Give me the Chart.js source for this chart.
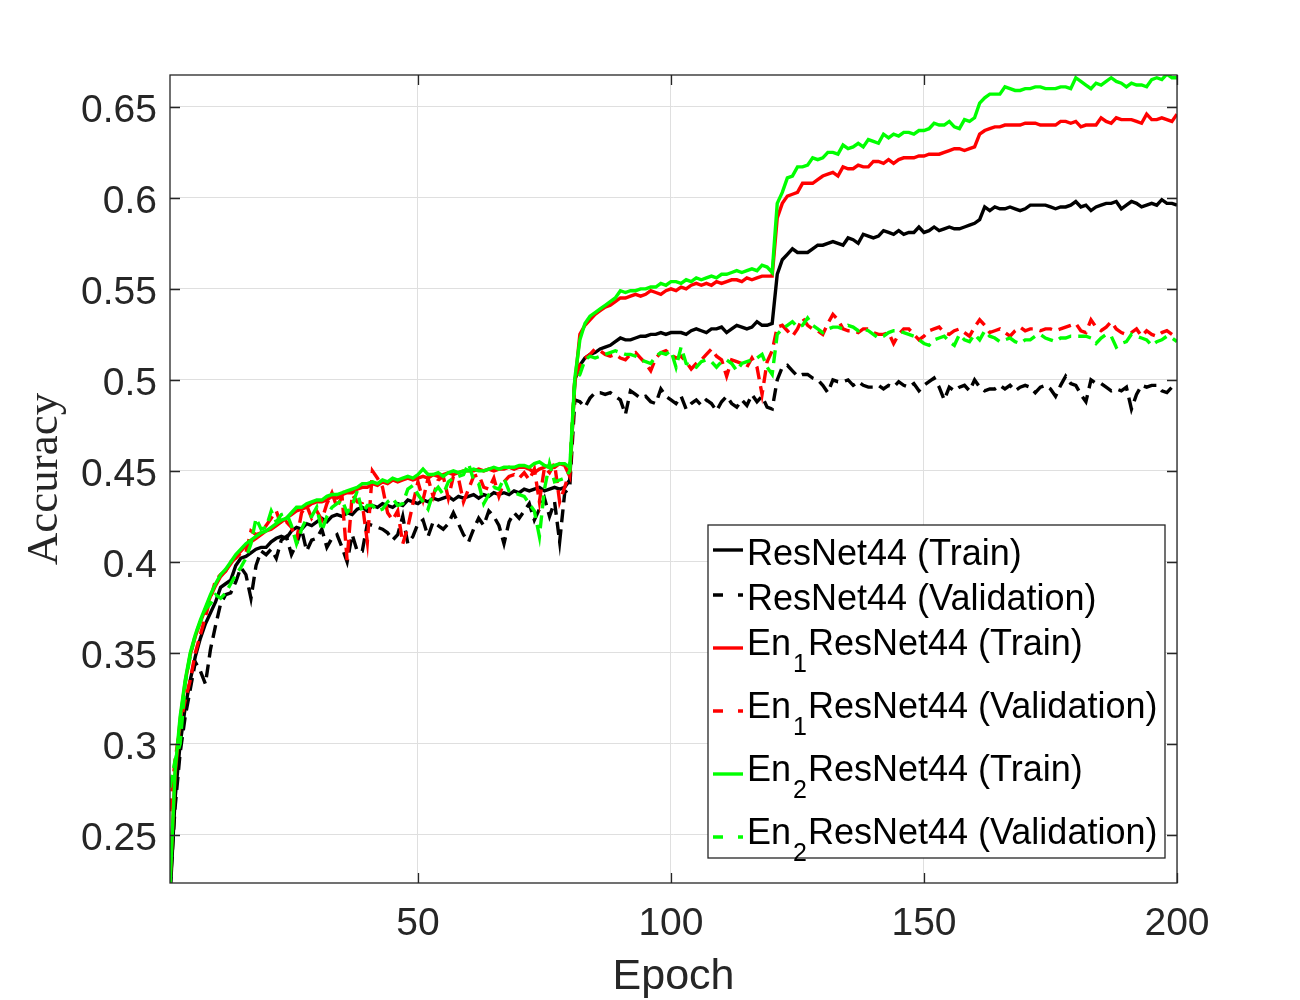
<!DOCTYPE html>
<html>
<head>
<meta charset="utf-8">
<title>Accuracy vs Epoch</title>
<script src="https://cdn.jsdelivr.net/npm/chart.js@4.4.1/dist/chart.umd.min.js"></script>
<style>
  html, body { margin: 0; padding: 0; background: #fff; }
  #chart { display: block; }
</style>
</head>
<body>
<canvas id="chart" width="1300" height="1000"></canvas>
<script>
// ─── Data ──────────────────────────────────────────────

var epochs = Array.from({ length: 200 }, function (_, i) { return i + 1; });

var xTicks = [50, 100, 150, 200];
var yTicks = [0.25, 0.3, 0.35, 0.4, 0.45, 0.5, 0.55, 0.6, 0.65];
var yTickLabels = ['0.25', '0.3', '0.35', '0.4', '0.45', '0.5', '0.55', '0.6', '0.65'];

// legend labels, "_n" marks a subscript digit
var seriesNames = [
  'ResNet44 (Train)',
  'ResNet44 (Validation)',
  'En_1ResNet44 (Train)',
  'En_1ResNet44 (Validation)',
  'En_2ResNet44 (Train)',
  'En_2ResNet44 (Validation)'
];

var resTrain = [
  0.215, 0.270, 0.300, 0.320, 0.335, 0.348, 0.358, 0.366, 0.372, 0.378,
  0.386, 0.388, 0.390, 0.398, 0.402, 0.403, 0.405, 0.407, 0.408, 0.408,
  0.411, 0.413, 0.414, 0.413, 0.417, 0.419, 0.418, 0.421, 0.420, 0.422,
  0.424, 0.422, 0.425, 0.426, 0.425, 0.427, 0.426, 0.429, 0.430, 0.428,
  0.431, 0.430, 0.432, 0.431, 0.430, 0.432, 0.431, 0.434, 0.433, 0.432,
  0.434, 0.433, 0.435, 0.434, 0.435, 0.436, 0.434, 0.436, 0.435, 0.436,
  0.437, 0.435, 0.437, 0.436, 0.438, 0.437, 0.438, 0.437, 0.439, 0.438,
  0.440, 0.439, 0.440, 0.441, 0.439, 0.440, 0.441, 0.440, 0.441, 0.445,
  0.500, 0.508, 0.512, 0.514, 0.515, 0.517, 0.518, 0.519, 0.521, 0.523,
  0.522, 0.522, 0.523, 0.524, 0.524, 0.525, 0.525, 0.526, 0.525, 0.526,
  0.526, 0.526, 0.525, 0.527, 0.528, 0.527, 0.526, 0.528, 0.528, 0.529,
  0.526, 0.528, 0.530, 0.529, 0.528, 0.529, 0.532, 0.530, 0.530, 0.531,
  0.558, 0.566, 0.569, 0.572, 0.570, 0.570, 0.570, 0.572, 0.574, 0.574,
  0.575, 0.576, 0.575, 0.574, 0.578, 0.577, 0.575, 0.580, 0.579, 0.578,
  0.579, 0.582, 0.581, 0.580, 0.582, 0.580, 0.581, 0.581, 0.584, 0.581,
  0.582, 0.584, 0.582, 0.583, 0.584, 0.583, 0.583, 0.584, 0.585, 0.586,
  0.588, 0.595, 0.593, 0.595, 0.594, 0.594, 0.595, 0.594, 0.593, 0.594,
  0.596, 0.596, 0.596, 0.596, 0.595, 0.594, 0.595, 0.595, 0.596, 0.598,
  0.595, 0.596, 0.593, 0.595, 0.596, 0.597, 0.597, 0.598, 0.594, 0.596,
  0.598, 0.597, 0.595, 0.596, 0.597, 0.596, 0.599, 0.597, 0.597, 0.596
];

var resVal = [
  0.220, 0.265, 0.295, 0.315, 0.330, 0.345, 0.340, 0.333, 0.352, 0.365,
  0.377, 0.382, 0.383, 0.389, 0.397, 0.393, 0.380, 0.398, 0.406, 0.404,
  0.407, 0.402, 0.412, 0.414, 0.404, 0.410, 0.418, 0.406, 0.412, 0.413,
  0.418, 0.408, 0.413, 0.415, 0.408, 0.400, 0.415, 0.406, 0.406, 0.421,
  0.420, 0.419, 0.418, 0.416, 0.412, 0.415, 0.425, 0.410, 0.414, 0.421,
  0.423, 0.414, 0.422, 0.420, 0.418, 0.421, 0.427, 0.421, 0.415, 0.411,
  0.418, 0.424, 0.420, 0.428, 0.425, 0.420, 0.410, 0.422, 0.427, 0.424,
  0.428, 0.432, 0.423, 0.429, 0.435, 0.425, 0.433, 0.411, 0.438, 0.441,
  0.489, 0.488, 0.485, 0.490, 0.493, 0.493, 0.492, 0.493, 0.491, 0.489,
  0.481, 0.494, 0.492, 0.490, 0.491, 0.488, 0.487, 0.495, 0.491, 0.489,
  0.487, 0.491, 0.484, 0.487, 0.489, 0.486, 0.489, 0.487, 0.483, 0.488,
  0.491, 0.487, 0.485, 0.489, 0.486, 0.492, 0.488, 0.491, 0.485, 0.484,
  0.500, 0.507, 0.508, 0.505, 0.502, 0.503, 0.503, 0.501, 0.500, 0.497,
  0.493, 0.500, 0.499, 0.499, 0.500, 0.497, 0.499, 0.497, 0.496, 0.496,
  0.497, 0.495, 0.497, 0.496, 0.499, 0.497, 0.496, 0.498, 0.494, 0.497,
  0.499, 0.501, 0.496, 0.489, 0.496, 0.494, 0.496, 0.497, 0.494, 0.500,
  0.496, 0.494, 0.495, 0.495, 0.497, 0.495, 0.497, 0.494, 0.496, 0.497,
  0.496, 0.493, 0.496, 0.497, 0.495, 0.491, 0.497, 0.502, 0.498, 0.497,
  0.492, 0.488, 0.500, 0.498, 0.498, 0.496, 0.494, 0.495, 0.494, 0.496,
  0.484, 0.492, 0.497, 0.496, 0.497, 0.497, 0.494, 0.493, 0.496, 0.495
];

var en1Train = [
  0.224, 0.283, 0.313, 0.334, 0.349, 0.359, 0.367, 0.374, 0.381, 0.387,
  0.392, 0.395, 0.399, 0.403, 0.406, 0.409, 0.411, 0.413, 0.415, 0.417,
  0.418, 0.420, 0.422, 0.424, 0.426, 0.428, 0.429, 0.430, 0.432, 0.433,
  0.433, 0.434, 0.436, 0.435, 0.437, 0.438, 0.438, 0.440, 0.441, 0.441,
  0.443, 0.442, 0.444, 0.443, 0.445, 0.444, 0.445, 0.446, 0.445, 0.446,
  0.447, 0.446, 0.448, 0.447, 0.448, 0.449, 0.448, 0.449, 0.450, 0.450,
  0.450, 0.451, 0.450, 0.451, 0.450, 0.451, 0.451, 0.452, 0.451, 0.452,
  0.452, 0.451, 0.449, 0.451, 0.452, 0.453, 0.452, 0.454, 0.453, 0.447,
  0.498, 0.525, 0.530, 0.533, 0.536, 0.538, 0.540, 0.541, 0.543, 0.545,
  0.545, 0.546, 0.547, 0.546, 0.547, 0.549, 0.548, 0.547, 0.549, 0.550,
  0.549, 0.551, 0.550, 0.552, 0.553, 0.552, 0.553, 0.552, 0.554, 0.553,
  0.554, 0.555, 0.555, 0.554, 0.556, 0.555, 0.556, 0.557, 0.557, 0.557,
  0.589, 0.597, 0.601, 0.602, 0.603, 0.608, 0.608, 0.608, 0.610, 0.612,
  0.613, 0.614, 0.612, 0.617, 0.616, 0.616, 0.618, 0.617, 0.617, 0.620,
  0.620, 0.619, 0.621, 0.619, 0.621, 0.622, 0.622, 0.622, 0.623, 0.623,
  0.624, 0.624, 0.624, 0.625, 0.626, 0.627, 0.627, 0.626, 0.627, 0.628,
  0.635, 0.637, 0.638, 0.639, 0.639, 0.640, 0.640, 0.640, 0.640, 0.641,
  0.641, 0.641, 0.640, 0.640, 0.640, 0.640, 0.642, 0.642, 0.641, 0.642,
  0.639, 0.640, 0.640, 0.640, 0.644, 0.642, 0.641, 0.644, 0.643, 0.643,
  0.643, 0.642, 0.641, 0.646, 0.643, 0.643, 0.644, 0.643, 0.642, 0.646
];

var en1Val = [
  0.263, 0.291, 0.310, 0.324, 0.335, 0.350, 0.360, 0.370, 0.380, 0.390,
  0.393, 0.395, 0.400, 0.402, 0.405, 0.405, 0.417, 0.415, 0.416, 0.420,
  0.424, 0.428, 0.420, 0.422, 0.419, 0.412, 0.427, 0.431, 0.424, 0.428,
  0.423, 0.432, 0.438, 0.430, 0.436, 0.401, 0.437, 0.433, 0.432, 0.411,
  0.450, 0.446, 0.441, 0.427, 0.423, 0.428, 0.410, 0.419, 0.432, 0.444,
  0.434, 0.446, 0.436, 0.445, 0.447, 0.435, 0.447, 0.446, 0.433, 0.440,
  0.447, 0.448, 0.441, 0.440, 0.446, 0.436, 0.444, 0.447, 0.448, 0.446,
  0.449, 0.445, 0.451, 0.433, 0.452, 0.449, 0.454, 0.433, 0.441, 0.450,
  0.501, 0.508, 0.512, 0.514, 0.517, 0.516, 0.514, 0.513, 0.514, 0.512,
  0.511, 0.514, 0.515, 0.512, 0.509, 0.505, 0.512, 0.515, 0.516, 0.514,
  0.512, 0.513, 0.510, 0.506, 0.509, 0.511, 0.514, 0.517, 0.513, 0.511,
  0.502, 0.511, 0.510, 0.509, 0.507, 0.512, 0.507, 0.492, 0.510, 0.516,
  0.529, 0.530, 0.527, 0.524, 0.528, 0.534, 0.530, 0.528, 0.527, 0.525,
  0.531, 0.536, 0.533, 0.528, 0.527, 0.527, 0.526, 0.528, 0.528, 0.526,
  0.525, 0.525, 0.526, 0.520, 0.525, 0.528, 0.528, 0.525, 0.522, 0.524,
  0.527, 0.528, 0.529, 0.526, 0.525, 0.527, 0.528, 0.526, 0.524, 0.529,
  0.533, 0.530, 0.526, 0.527, 0.528, 0.526, 0.524, 0.527, 0.529, 0.527,
  0.528, 0.528, 0.527, 0.528, 0.528, 0.527, 0.528, 0.529, 0.530, 0.531,
  0.527, 0.526, 0.533, 0.529, 0.527, 0.529, 0.532, 0.528, 0.526, 0.525,
  0.526, 0.528, 0.524, 0.527, 0.525, 0.524, 0.526, 0.527, 0.525, 0.523
];

var en2Train = [
  0.222, 0.285, 0.315, 0.335, 0.350, 0.360, 0.368, 0.375, 0.382, 0.388,
  0.393, 0.396, 0.400, 0.404, 0.407, 0.410, 0.412, 0.414, 0.416, 0.417,
  0.419, 0.421, 0.423, 0.424, 0.427, 0.430, 0.430, 0.432, 0.433, 0.434,
  0.434, 0.436, 0.437, 0.437, 0.438, 0.439, 0.440, 0.441, 0.443, 0.443,
  0.444, 0.443, 0.445, 0.444, 0.446, 0.445, 0.446, 0.447, 0.446, 0.448,
  0.451, 0.448, 0.448, 0.449, 0.447, 0.449, 0.450, 0.449, 0.450, 0.450,
  0.451, 0.450, 0.450, 0.451, 0.452, 0.451, 0.452, 0.452, 0.452, 0.453,
  0.453, 0.452, 0.454, 0.455, 0.453, 0.452, 0.453, 0.454, 0.454, 0.452,
  0.501, 0.522, 0.531, 0.535, 0.537, 0.539, 0.541, 0.543, 0.545, 0.549,
  0.548, 0.549, 0.549, 0.550, 0.550, 0.551, 0.551, 0.553, 0.552, 0.554,
  0.554, 0.553, 0.555, 0.554, 0.556, 0.555, 0.556, 0.557, 0.556, 0.558,
  0.558, 0.559, 0.560, 0.559, 0.560, 0.561, 0.560, 0.563, 0.562, 0.559,
  0.597, 0.603, 0.611, 0.612, 0.617, 0.617, 0.618, 0.622, 0.621, 0.622,
  0.625, 0.625, 0.624, 0.629, 0.627, 0.628, 0.630, 0.628, 0.632, 0.631,
  0.630, 0.635, 0.633, 0.635, 0.634, 0.636, 0.636, 0.635, 0.637, 0.637,
  0.638, 0.641, 0.640, 0.640, 0.642, 0.639, 0.638, 0.643, 0.642, 0.644,
  0.652, 0.655, 0.657, 0.657, 0.657, 0.661, 0.660, 0.659, 0.659, 0.660,
  0.660, 0.661, 0.661, 0.660, 0.660, 0.660, 0.661, 0.661, 0.660, 0.666,
  0.664, 0.662, 0.660, 0.663, 0.662, 0.664, 0.666, 0.664, 0.663, 0.661,
  0.663, 0.662, 0.662, 0.661, 0.665, 0.666, 0.665, 0.668, 0.666, 0.666
];

var en2Val = [
  0.276, 0.291, 0.300, 0.333, 0.348, 0.360, 0.367, 0.374, 0.377, 0.382,
  0.380, 0.383, 0.388, 0.393, 0.397, 0.402, 0.410, 0.424, 0.418, 0.419,
  0.428, 0.422, 0.426, 0.427, 0.420, 0.410, 0.418, 0.424, 0.425, 0.430,
  0.417, 0.425, 0.430, 0.432, 0.434, 0.427, 0.431, 0.439, 0.427, 0.431,
  0.431, 0.428, 0.429, 0.433, 0.435, 0.431, 0.432, 0.440, 0.442, 0.437,
  0.433, 0.429, 0.438, 0.441, 0.437, 0.444, 0.446, 0.447, 0.448, 0.454,
  0.445, 0.443, 0.432, 0.437, 0.441, 0.440, 0.446, 0.439, 0.438, 0.437,
  0.436, 0.432, 0.428, 0.414, 0.440, 0.454, 0.444, 0.445, 0.446, 0.450,
  0.499, 0.503, 0.511, 0.513, 0.512, 0.513, 0.514, 0.515, 0.516, 0.515,
  0.514, 0.514, 0.513, 0.511, 0.510, 0.509, 0.513, 0.515, 0.514, 0.516,
  0.507, 0.518, 0.509, 0.508, 0.507, 0.510, 0.511, 0.510, 0.507, 0.510,
  0.511, 0.509, 0.505, 0.509, 0.510, 0.511, 0.512, 0.514, 0.507, 0.503,
  0.525, 0.528, 0.530, 0.532, 0.529, 0.530, 0.534, 0.530, 0.528, 0.526,
  0.528, 0.529, 0.529, 0.528, 0.530, 0.529, 0.527, 0.528, 0.527, 0.525,
  0.523, 0.524, 0.526, 0.527, 0.527, 0.526, 0.525, 0.524, 0.522, 0.520,
  0.519, 0.522, 0.523, 0.524, 0.521, 0.519, 0.525, 0.522, 0.521, 0.525,
  0.522, 0.527, 0.524, 0.523, 0.521, 0.522, 0.523, 0.521, 0.520, 0.522,
  0.522, 0.524, 0.525, 0.523, 0.522, 0.521, 0.523, 0.523, 0.524, 0.524,
  0.524, 0.524, 0.523, 0.520, 0.523, 0.525, 0.524, 0.518, 0.520, 0.521,
  0.525, 0.524, 0.523, 0.522, 0.519, 0.521, 0.522, 0.524, 0.523, 0.521
];

// ─── Style ─────────────────────────────────────────────

var AXIS_COLOR = '#262626';
var GRID_COLOR = '#dfdfdf';
var SANS = '"Liberation Sans", Arial, Helvetica, sans-serif';
var SERIF = '"Liberation Serif", "DejaVu Serif", serif';
var DASH = [13, 7];

var seriesStyle = [
  { color: '#000000', dash: [] },
  { color: '#000000', dash: DASH },
  { color: '#ff0000', dash: [] },
  { color: '#ff0000', dash: DASH },
  { color: '#00ff00', dash: [] },
  { color: '#00ff00', dash: DASH }
];
var seriesValues = [resTrain, resVal, en1Train, en1Val, en2Train, en2Val];

function toPoints(values) {
  return values.map(function (v, i) { return { x: epochs[i], y: v }; });
}

var datasets = seriesValues.map(function (vals, i) {
  return {
    label: seriesNames[i].replace('_', ''),
    data: toPoints(vals),
    borderColor: seriesStyle[i].color,
    borderDash: seriesStyle[i].dash,
    borderWidth: 3.4,
    pointRadius: 0,
    tension: 0,
    fill: false,
    clip: 0,
    order: seriesValues.length - i   // later series drawn on top
  };
});

// ─── Plugins: axes box + inner ticks, legend ───────────

var framePlugin = {
  id: 'frame',
  afterDatasetsDraw: function (chart) {
    var a = chart.chartArea, ctx = chart.ctx;
    var xs = chart.scales.x, ys = chart.scales.y;
    var tl = 10;
    ctx.save();
    ctx.strokeStyle = AXIS_COLOR;
    ctx.lineWidth = 1.3;
    ctx.strokeRect(a.left, a.top, a.right - a.left, a.bottom - a.top);
    ctx.beginPath();
    xTicks.forEach(function (v) {
      var px = Math.round(xs.getPixelForValue(v)) + 0.5;
      ctx.moveTo(px, a.bottom); ctx.lineTo(px, a.bottom - tl);
      ctx.moveTo(px, a.top); ctx.lineTo(px, a.top + tl);
    });
    yTicks.forEach(function (v) {
      var py = Math.round(ys.getPixelForValue(v)) + 0.5;
      ctx.moveTo(a.left, py); ctx.lineTo(a.left + tl, py);
      ctx.moveTo(a.right, py); ctx.lineTo(a.right - tl, py);
    });
    ctx.stroke();
    ctx.restore();
  }
};

var legendPlugin = {
  id: 'matlabLegend',
  afterDraw: function (chart) {
    var ctx = chart.ctx;
    var box = { left: 708, top: 525, right: 1165, bottom: 858 };
    ctx.save();
    ctx.fillStyle = '#ffffff';
    ctx.fillRect(box.left, box.top, box.right - box.left, box.bottom - box.top);
    ctx.strokeStyle = AXIS_COLOR;
    ctx.lineWidth = 1.3;
    ctx.strokeRect(box.left, box.top, box.right - box.left, box.bottom - box.top);

    var baseline = 565;
    seriesNames.forEach(function (name, i) {
      var parts = name.split('_');
      var hasSub = parts.length > 1;
      var lineY = baseline - (hasSub ? 7 : 15);

      // line sample
      ctx.strokeStyle = seriesStyle[i].color;
      ctx.lineWidth = 3.4;
      ctx.setLineDash(seriesStyle[i].dash.length ? [10, 15] : []);
      ctx.beginPath();
      ctx.moveTo(713, lineY);
      ctx.lineTo(743, lineY);
      ctx.stroke();
      ctx.setLineDash([]);

      // label text
      ctx.fillStyle = '#000000';
      ctx.textBaseline = 'alphabetic';
      ctx.textAlign = 'left';
      ctx.font = '36px ' + SANS;
      var x = 747;
      if (hasSub) {
        ctx.fillText(parts[0], x, baseline);
        x += ctx.measureText(parts[0]).width + 2;
        var sub = parts[1].charAt(0);
        ctx.font = '25px ' + SANS;
        ctx.fillText(sub, x, baseline + 17);
        x += ctx.measureText(sub).width + 1;
        ctx.font = '36px ' + SANS;
        ctx.fillText(parts[1].slice(1), x, baseline);
      } else {
        ctx.fillText(name, x, baseline);
      }
      baseline += hasSub ? 63 : 45;
    });
    ctx.restore();
  }
};

// ─── Chart ─────────────────────────────────────────────

new Chart(document.getElementById('chart'), {
  type: 'line',
  data: { datasets: datasets },
  plugins: [framePlugin, legendPlugin],
  options: {
    responsive: false,
    animation: false,
    devicePixelRatio: 1,
    layout: { padding: { top: 75, right: 123, left: 0, bottom: 0 } },
    plugins: {
      legend: { display: false },
      tooltip: { enabled: false }
    },
    scales: {
      x: {
        type: 'linear',
        min: 1,
        max: 200,
        afterBuildTicks: function (scale) {
          scale.ticks = xTicks.map(function (v) { return { value: v }; });
        },
        afterFit: function (scale) { scale.height = 117; },
        ticks: {
          color: AXIS_COLOR,
          padding: 18,
          maxRotation: 0,
          font: { family: SANS, size: 39 },
          callback: function (v) { return String(v); }
        },
        grid: { color: GRID_COLOR, lineWidth: 1, drawTicks: false },
        border: { display: false },
        title: {
          display: true,
          text: 'Epoch',
          color: AXIS_COLOR,
          font: { family: SANS, size: 43 },
          padding: { top: 0, bottom: -3 }
        }
      },
      y: {
        type: 'linear',
        min: 0.2236,
        max: 0.6675,
        afterBuildTicks: function (scale) {
          scale.ticks = yTicks.map(function (v) { return { value: v }; });
        },
        afterFit: function (scale) { scale.width = 170; },
        ticks: {
          color: AXIS_COLOR,
          padding: 13,
          labelOffset: 4,
          font: { family: SANS, size: 39 },
          callback: function (v) {
            var i = yTicks.indexOf(v);
            return i >= 0 ? yTickLabels[i] : '';
          }
        },
        grid: { color: GRID_COLOR, lineWidth: 1, drawTicks: false },
        border: { display: false },
        title: {
          display: true,
          text: 'Accuracy',
          color: AXIS_COLOR,
          font: { family: SERIF, size: 45 },
          padding: { top: 18, bottom: 0 }
        }
      }
    }
  }
});
</script>
</body>
</html>
